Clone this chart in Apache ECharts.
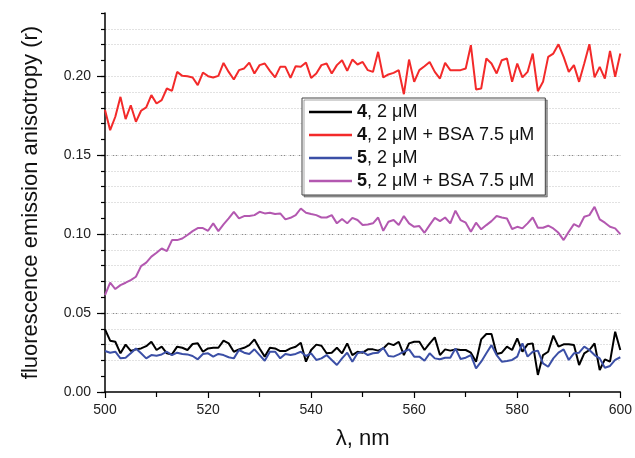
<!DOCTYPE html>
<html><head><meta charset="utf-8">
<script src="https://cdn.jsdelivr.net/npm/echarts@6/dist/echarts.min.js"></script>
<style>html,body{margin:0;padding:0;background:#fff}#c{width:635px;height:458px}</style>
</head><body><div id="c"></div>
<script>
// sampling grid: 500..600 nm, 1 nm step
const wavelengths = Array.from({length: 101}, (_, i) => 500 + i);
const seriesNames = ['4, 2 μM', '4, 2 μM + BSA 7.5 μM', '5, 2 μM', '5, 2 μM + BSA 7.5 μM'];
const seriesColors = ['#000000', '#f32a2a', '#3b4fa6', '#b358b0'];

const cmpd4 = [
 0.0397,0.0325,0.0318,0.0245,0.0300,0.0260,0.0270,0.0276,0.0290,0.0318,
 0.0266,0.0287,0.0245,0.0238,0.0287,0.0280,0.0266,0.0304,0.0308,0.0255,
 0.0276,0.0280,0.0280,0.0325,0.0308,0.0255,0.0270,0.0280,0.0297,0.0333,
 0.0276,0.0224,0.0280,0.0276,0.0259,0.0259,0.0276,0.0287,0.0312,0.0192,
 0.0266,0.0300,0.0293,0.0245,0.0249,0.0280,0.0245,0.0308,0.0234,0.0255,
 0.0249,0.0270,
 0.0270,0.0262,0.0276,0.0308,0.0297,0.0318,0.0234,0.0308,0.0318,0.0318,
 0.0266,0.0308,0.0346,0.0234,0.0270,0.0262,0.0270,0.0266,0.0266,0.0249,
 0.0192,0.0333,0.0367,0.0367,0.0241,0.0249,0.0287,0.0266,0.0340,0.0255,
 0.0302,0.0308,0.0108,0.0234,0.0255,0.0357,0.0287,0.0302,0.0302,0.0297,
 0.0171,0.0245,0.0266,0.0308,0.0139,0.0207,0.0192,0.0382,0.0266
];
const cmpd4BSA = [
 0.1785,0.1658,0.1743,0.1869,0.1728,0.1816,0.1711,0.1781,0.1802,0.1880,
 0.1827,0.1848,0.1922,0.1907,0.2027,0.2002,0.2000,0.1992,0.1943,0.2023,
 0.2000,0.1992,0.2002,0.2084,0.2027,0.1979,0.2038,0.2049,0.2086,0.2017,
 0.2070,0.2080,0.2034,0.1992,0.2059,0.2059,0.1989,0.2063,0.2059,0.2086,
 0.1989,0.2017,0.2070,0.2080,0.2017,0.2070,0.2101,0.2034,0.2105,0.2074,
 0.2090,0.2038,
 0.2027,0.2154,0.1992,0.2011,0.2021,0.2038,0.1886,0.2105,0.1964,0.2038,
 0.2063,0.2090,0.2027,0.1985,0.2084,0.2038,0.2038,0.2038,0.2049,0.2196,
 0.1916,0.1922,0.2112,0.2080,0.2017,0.2101,0.2112,0.1964,0.2080,0.1992,
 0.2027,0.2143,0.1905,0.1964,0.2122,0.2143,0.2202,0.2122,0.2027,0.2070,
 0.1964,0.2080,0.2202,0.1992,0.2059,0.1985,0.2160,0.1996,0.2143
];
const cmpd5 = [
 0.0260,0.0249,0.0255,0.0213,0.0217,0.0245,0.0276,0.0245,0.0213,0.0234,
 0.0230,0.0238,0.0255,0.0234,0.0249,0.0241,0.0238,0.0228,0.0207,0.0241,
 0.0245,0.0224,0.0241,0.0234,0.0220,0.0213,0.0266,0.0249,0.0241,0.0270,
 0.0234,0.0198,0.0255,0.0255,0.0213,0.0241,0.0234,0.0241,0.0255,0.0228,
 0.0245,0.0203,0.0213,0.0234,0.0203,0.0171,0.0213,0.0249,0.0192,0.0245,
 0.0255,0.0234,
 0.0245,0.0249,0.0280,0.0228,0.0224,0.0238,0.0255,0.0270,0.0224,0.0224,
 0.0198,0.0245,0.0213,0.0207,0.0217,0.0217,0.0276,0.0209,0.0217,0.0234,
 0.0150,0.0192,0.0245,0.0297,0.0234,0.0192,0.0196,0.0203,0.0224,0.0308,
 0.0224,0.0255,0.0262,0.0181,0.0160,0.0213,0.0249,0.0270,0.0203,0.0245,
 0.0249,0.0287,0.0266,0.0234,0.0213,0.0154,0.0165,0.0203,0.0220
];
const cmpd5BSA = [
 0.0614,0.0692,0.0652,0.0677,0.0692,0.0709,0.0730,0.0797,0.0819,0.0857,
 0.0882,0.0909,0.0892,0.0962,0.0962,0.0972,0.0994,0.1019,0.1038,0.1038,
 0.1021,0.1068,0.1019,0.1061,0.1099,0.1141,0.1099,0.1114,0.1114,0.1120,
 0.1141,0.1131,0.1135,0.1127,0.1131,0.1093,0.1103,0.1120,0.1162,0.1135,
 0.1127,0.1120,0.1105,0.1105,0.1120,0.1068,0.1095,0.1068,0.1103,0.1089,
 0.1057,0.1061,
 0.1068,0.1105,0.1021,0.1078,0.1089,0.1057,0.1114,0.1068,0.1046,0.1051,
 0.1008,0.1057,0.1103,0.1082,0.1105,0.1068,0.1148,0.1089,0.1072,0.1015,
 0.1072,0.1030,0.1057,0.1082,0.1114,0.1105,0.1099,0.1032,0.1046,0.1036,
 0.1068,0.1105,0.1040,0.1040,0.1053,0.1036,0.1008,0.0962,0.1015,0.1063,
 0.1046,0.1110,0.1120,0.1173,0.1093,0.1072,0.1046,0.1036,0.1000
];
const yMajorTicks = [0, 0.05, 0.10, 0.15, 0.20];
const xTickLabels = [500, 520, 540, 560, 580, 600];

const allSeries = [cmpd4, cmpd4BSA, cmpd5, cmpd5BSA];
const FONT = "'Liberation Sans', Arial, sans-serif";

const chart = echarts.init(document.getElementById('c'), null, {renderer: 'canvas'});
chart.setOption({
  animation: false,
  backgroundColor: '#ffffff',
  textStyle: {fontFamily: FONT},
  grid: {left: 105, right: 14, top: 13, bottom: 66, containLabel: false},
  legend: {
    orient: 'vertical', left: 302, top: 98,
    data: seriesNames.map((n, k) => ({name: n, icon: 'rect', itemStyle: {color: seriesColors[k]}})),
    itemWidth: 43, itemHeight: 2.5, itemGap: 5,
    padding: [5, 11, 5, 7],
    backgroundColor: '#ffffff', borderColor: '#444', borderWidth: 1,
    shadowColor: 'rgba(0,0,0,0.35)', shadowOffsetX: 2, shadowOffsetY: 2, shadowBlur: 0,
    formatter: function (name) {
      const m = name.match(/^(\d)(.*)$/);
      return '{b|' + m[1] + '}{n|' + m[2] + '}';
    },
    textStyle: {
      fontSize: 18, color: '#111', fontFamily: FONT,
      rich: {
        b: {fontSize: 18, fontWeight: 'bold', color: '#111', fontFamily: FONT},
        n: {fontSize: 18, color: '#111', fontFamily: FONT}
      }
    }
  },
  xAxis: {
    type: 'value', min: 500, max: 600, interval: 20,
    name: 'λ, nm', nameLocation: 'middle', nameGap: 36,
    nameTextStyle: {fontSize: 22, color: '#111', fontFamily: FONT},
    axisLine: {show: true, onZero: false, lineStyle: {color: '#000', width: 1.5}},
    axisTick: {show: true, inside: false, length: 6, lineStyle: {color: '#000', width: 1.2}},
    minorTick: {show: true, splitNumber: 2, length: 5, lineStyle: {color: '#000', width: 1.2}},
    axisLabel: {fontSize: 14, color: '#222', margin: 11,
      customValues: xTickLabels, formatter: v => String(v)},
    splitLine: {show: false}
  },
  yAxis: [{
    type: 'value', min: 0, max: 0.24, interval: 0.05,
    name: 'fluorescence emission anisotropy (r)', nameLocation: 'middle', nameGap: 63,
    nameTextStyle: {fontSize: 22, color: '#111', fontFamily: FONT},
    axisLine: {show: true, onZero: false, lineStyle: {color: '#000', width: 1.5}},
    axisTick: {show: true, inside: false, length: 8, customValues: yMajorTicks, lineStyle: {color: '#000', width: 1.2}},
    axisLabel: {fontSize: 14, color: '#222', margin: 14, customValues: yMajorTicks,
      formatter: v => v.toFixed(2)},
    splitLine: {show: true, showMinLine: false, showMaxLine: false,
      lineStyle: {color: '#8a8a8a', width: 1, type: [5, 3]}}
  }, {
    type: 'value', min: 0, max: 0.24, interval: 0.01, position: 'left', offset: 0,
    axisLine: {show: false},
    axisTick: {show: true, inside: false, length: 4, lineStyle: {color: '#000', width: 1.2}},
    axisLabel: {show: false},
    splitLine: {show: true, showMinLine: false, showMaxLine: false,
      lineStyle: {color: ['rgba(0,0,0,0)', '#e2e2e2', '#e2e2e2', '#e2e2e2', '#e2e2e2'], width: 1, type: [2, 1]}}
  }],
  series: allSeries.map((vals, k) => ({
    name: seriesNames[k],
    type: 'line',
    yAxisIndex: 0,
    symbol: 'none', showSymbol: false,
    clip: true,
    color: seriesColors[k],
    lineStyle: {color: seriesColors[k], width: 2},
    data: wavelengths.map((w, i) => [w, vals[i]])
  }))
});
</script>
</body></html>
